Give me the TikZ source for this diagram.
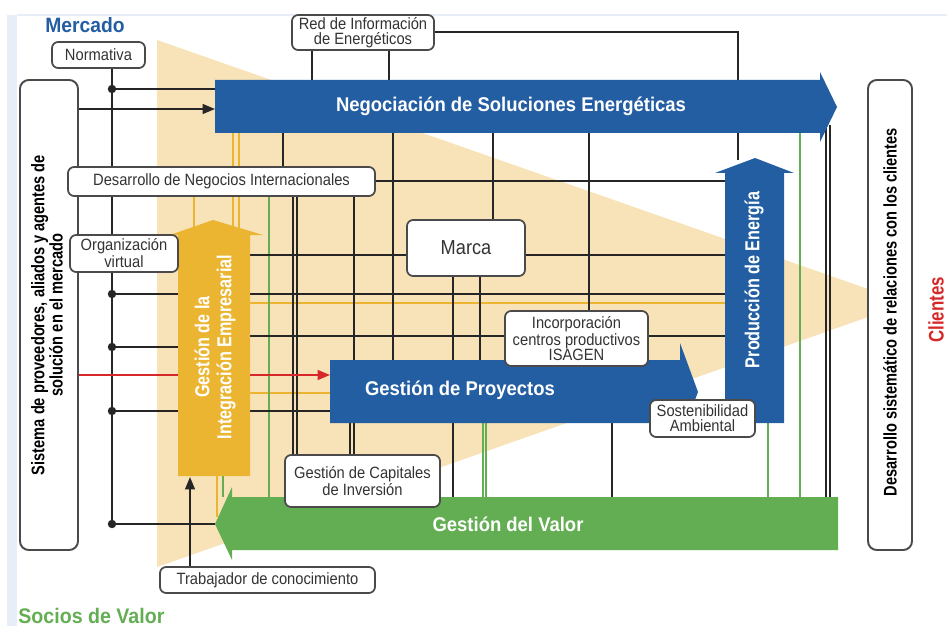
\documentclass[tikz,border=0pt]{standalone}
\usepackage{fontspec}
\setmainfont{Liberation Sans}
\newfontfamily\narrowfont[FakeStretch=0.9]{Liberation Sans}
\newfontfamily\titlefont[FakeStretch=0.93]{Liberation Sans}
\newfontfamily\condfont[FakeStretch=0.8]{Liberation Sans}
\usepackage{xcolor}
\usetikzlibrary{arrows.meta}
\usetikzlibrary{positioning}
\usetikzlibrary{fit}
\definecolor{isablue}{HTML}{235EA3}
\definecolor{isagreen}{HTML}{63AE53}
\definecolor{isayellow}{HTML}{EBB531}
\definecolor{beige}{HTML}{F8E2B7}
\definecolor{isared}{HTML}{D62828}
\definecolor{paleblue}{HTML}{E8EEF8}
\definecolor{boxgray}{HTML}{4A4A4A}
\definecolor{txtgray}{HTML}{333333}
\tikzset{
  lbl/.style={draw=boxgray, line width=1pt, rounded corners=3.5pt, fill=white, inner sep=0pt},
  lbltxt/.style={text=txtgray, align=center, font=\narrowfont\fontsize{9.3}{8.6}\selectfont},
  sidebox/.style={draw=boxgray, line width=1.1pt, rounded corners=5pt, fill=white, inner sep=0pt},
  sidetxt/.style={rotate=90, align=center, text=black, font=\condfont\bfseries\fontsize{10.4}{10.4}\selectfont},
  bigtxt/.style={text=white, font=\titlefont\bfseries\fontsize{11.3}{12}\selectfont},
  uptxt/.style={rotate=90, align=center, text=white, font=\condfont\bfseries\fontsize{11.5}{12.5}\selectfont},
  gridline/.style={line width=1.1pt, black!85},
  yline/.style={line width=0.8pt, isayellow},
  gline/.style={line width=0.8pt, isagreen},
  tip/.style={-{Triangle[length=7pt,width=5.5pt]}}
}

\begin{document}
\begin{tikzpicture}[x=0.2mm, y=-0.2mm]
\useasboundingbox (0,0) rectangle (947,626);
%background
\fill[paleblue] (7,15) rectangle (17,626);
\draw[paleblue, line width=1pt] (17,15) -- (947,15);
\fill[beige] (157,40) -- (908,303) -- (157,567) -- cycle;

%yellow and green lines
\draw[yline] (233,133) -- (233,228);
\draw[yline] (239,133) -- (239,228);
\draw[yline] (194,196) -- (194,230);
\draw[yline] (217,476) -- (217,517);
\draw[yline] (250,303) -- (725,303);
\draw[yline] (250,393) -- (330,393);
\draw[gline] (269,196) -- (269,497);
\draw[gline] (223,476) -- (223,497);
\draw[gline] (483,423) -- (483,497);
\draw[gline] (486,423) -- (486,497);
\draw[gline] (768,423) -- (768,497);
\draw[gline] (800,133) -- (800,497);

%black grid
\draw[gridline] (112,68) -- (112,524);
\draw[gridline] (112,89) -- (215,89);
\draw[gridline] (112,294) -- (725,294);
\draw[gridline] (112,347) -- (178,347);
\draw[gridline] (112,411) -- (330,411);
\draw[gridline] (112,524) -- (215,524);
\draw[gridline] (250,255) -- (725,255);
\draw[gridline] (250,336) -- (725,336);
\draw[gridline] (375,181) -- (725,181);
\draw[gridline] (434,32) -- (738,32) -- (738,80);
\draw[gridline] (738,133) -- (738,160);
\draw[gridline] (312,50) -- (312,80);
\draw[gridline] (389,50) -- (389,80);
\draw[gridline] (283,133) -- (283,167);
\draw[gridline] (293,196) -- (293,455);
\draw[gridline] (297,196) -- (297,455);
\draw[gridline] (354,196) -- (354,360);
\draw[gridline] (350,423) -- (350,455);
\draw[gridline] (354,423) -- (354,455);
\draw[gridline] (393,133) -- (393,360);
\draw[gridline] (493,133) -- (493,220);
\draw[gridline] (453,276) -- (453,497);
\draw[gridline] (480,276) -- (480,360);
\draw[gridline] (589,133) -- (589,311);
\draw[gridline] (612,366) -- (612,497);
\draw[gridline] (826,125) -- (826,497);
\draw[gridline] (830,125) -- (830,497);
\foreach \y in {89,294,347,411,524}
  \fill[black!85] (112,\y) circle (2.4pt);

%side boxes
\node[sidebox, fit={(20,80) (78,550)}] (prov) {};
\node[sidetxt] (provtxt) at ([xshift=-0.4mm]prov.center) {Sistema de proveedores, aliados y agentes de\\solución en el mercado};
\node[sidebox, fit={(868,80) (912,550)}] (cli) {};
\node[sidetxt] (clitxt) at ([yshift=0.6mm]cli.center) {Desarrollo sistemático de relaciones con los clientes};

%inputs
\draw[gridline, tip] (prov.east |- 0,109) -- (215,109);
\draw[line width=1.1pt, isared, tip] (prov.east |- 0,375) -- (330,375);

%big arrows
\fill[isayellow] (178,476) -- (178,235) -- (170,235) -- (213,220) -- (263,235) -- (250,235) -- (250,476) -- cycle;
\fill[isablue] (215,80) -- (820,80) -- (820,72) -- (837,107) -- (820,142) -- (820,133) -- (215,133) -- cycle;
\fill[isablue] (725,423) -- (725,173) -- (715,173) -- (755,158) -- (794,173) -- (784,173) -- (784,423) -- cycle;
\fill[isablue] (330,360) -- (680,360) -- (680,343) -- (698,392) -- (682,434) -- (680,423) -- (330,423) -- cycle;
\fill[isagreen] (838,497) -- (232,497) -- (232,487) -- (215,524) -- (232,560) -- (232,550) -- (838,550) -- cycle;
\node[bigtxt] (neg) at (511,106) {Negociación de Soluciones Energéticas};
\node[bigtxt] (proy) at (460,390) {Gestión de Proyectos};
\node[bigtxt] (valor) at (508,524) {Gestión del Valor};
\node[uptxt] (prod) at (754,280) {Producción de Energía};
\node[uptxt] (gie) at (215,347) {Gestión de la\\Integración Empresarial};

%label boxes
\node[lbl, fit={(52,42) (145,68)}, label={[lbltxt]center:Normativa}] (norm) {};
\node[lbl, fit={(292,15) (434,50)}, label={[lbltxt]center:Red de Información\\de Energéticos}] (redinf) {};
\node[lbl, fit={(68,167) (375,196)}, label={[lbltxt]center:Desarrollo de Negocios Internacionales}] (dni) {};
\node[lbl, fit={(70,235) (178,272)}, label={[lbltxt]center:Organización\\virtual}] (orgv) {};
\node[lbl, fit={(407,220) (525,276)}, label={[lbltxt, font=\narrowfont\fontsize{11.5}{12}\selectfont]center:Marca}] (marca) {};
\node[lbl, fit={(505,311) (648,366)}, label={[lbltxt]center:Incorporación\\centros productivos\\ISAGEN}] (incorp) {};
\node[lbl, fit={(650,400) (755,437)}, label={[lbltxt]center:Sostenibilidad\\Ambiental}] (sost) {};
\node[lbl, fit={(285,455) (440,507)}, label={[lbltxt]center:Gestión de Capitales\\de Inversión}] (capit) {};
\node[lbl, fit={(160,567) (375,593)}, label={[lbltxt]center:Trabajador de conocimiento}] (trab) {};
\coordinate (trabx) at (190,0);
\draw[gridline, tip] (trab.north -| trabx) -- (190,477);

%titles
\node[text=isablue, font=\titlefont\bfseries\fontsize{11.8}{12}\selectfont] (merc) at (85,25) {Mercado};
\node[anchor=base west, inner sep=0pt, text=isagreen, font=\titlefont\bfseries\fontsize{12}{12}\selectfont] (socios) at (18,623) {Socios de Valor};
\node[rotate=90, inner sep=0pt, text=isared, font=\condfont\bfseries\fontsize{12}{12}\selectfont] (clientes) at (936,310) {Clientes};
\end{tikzpicture}
\end{document}
